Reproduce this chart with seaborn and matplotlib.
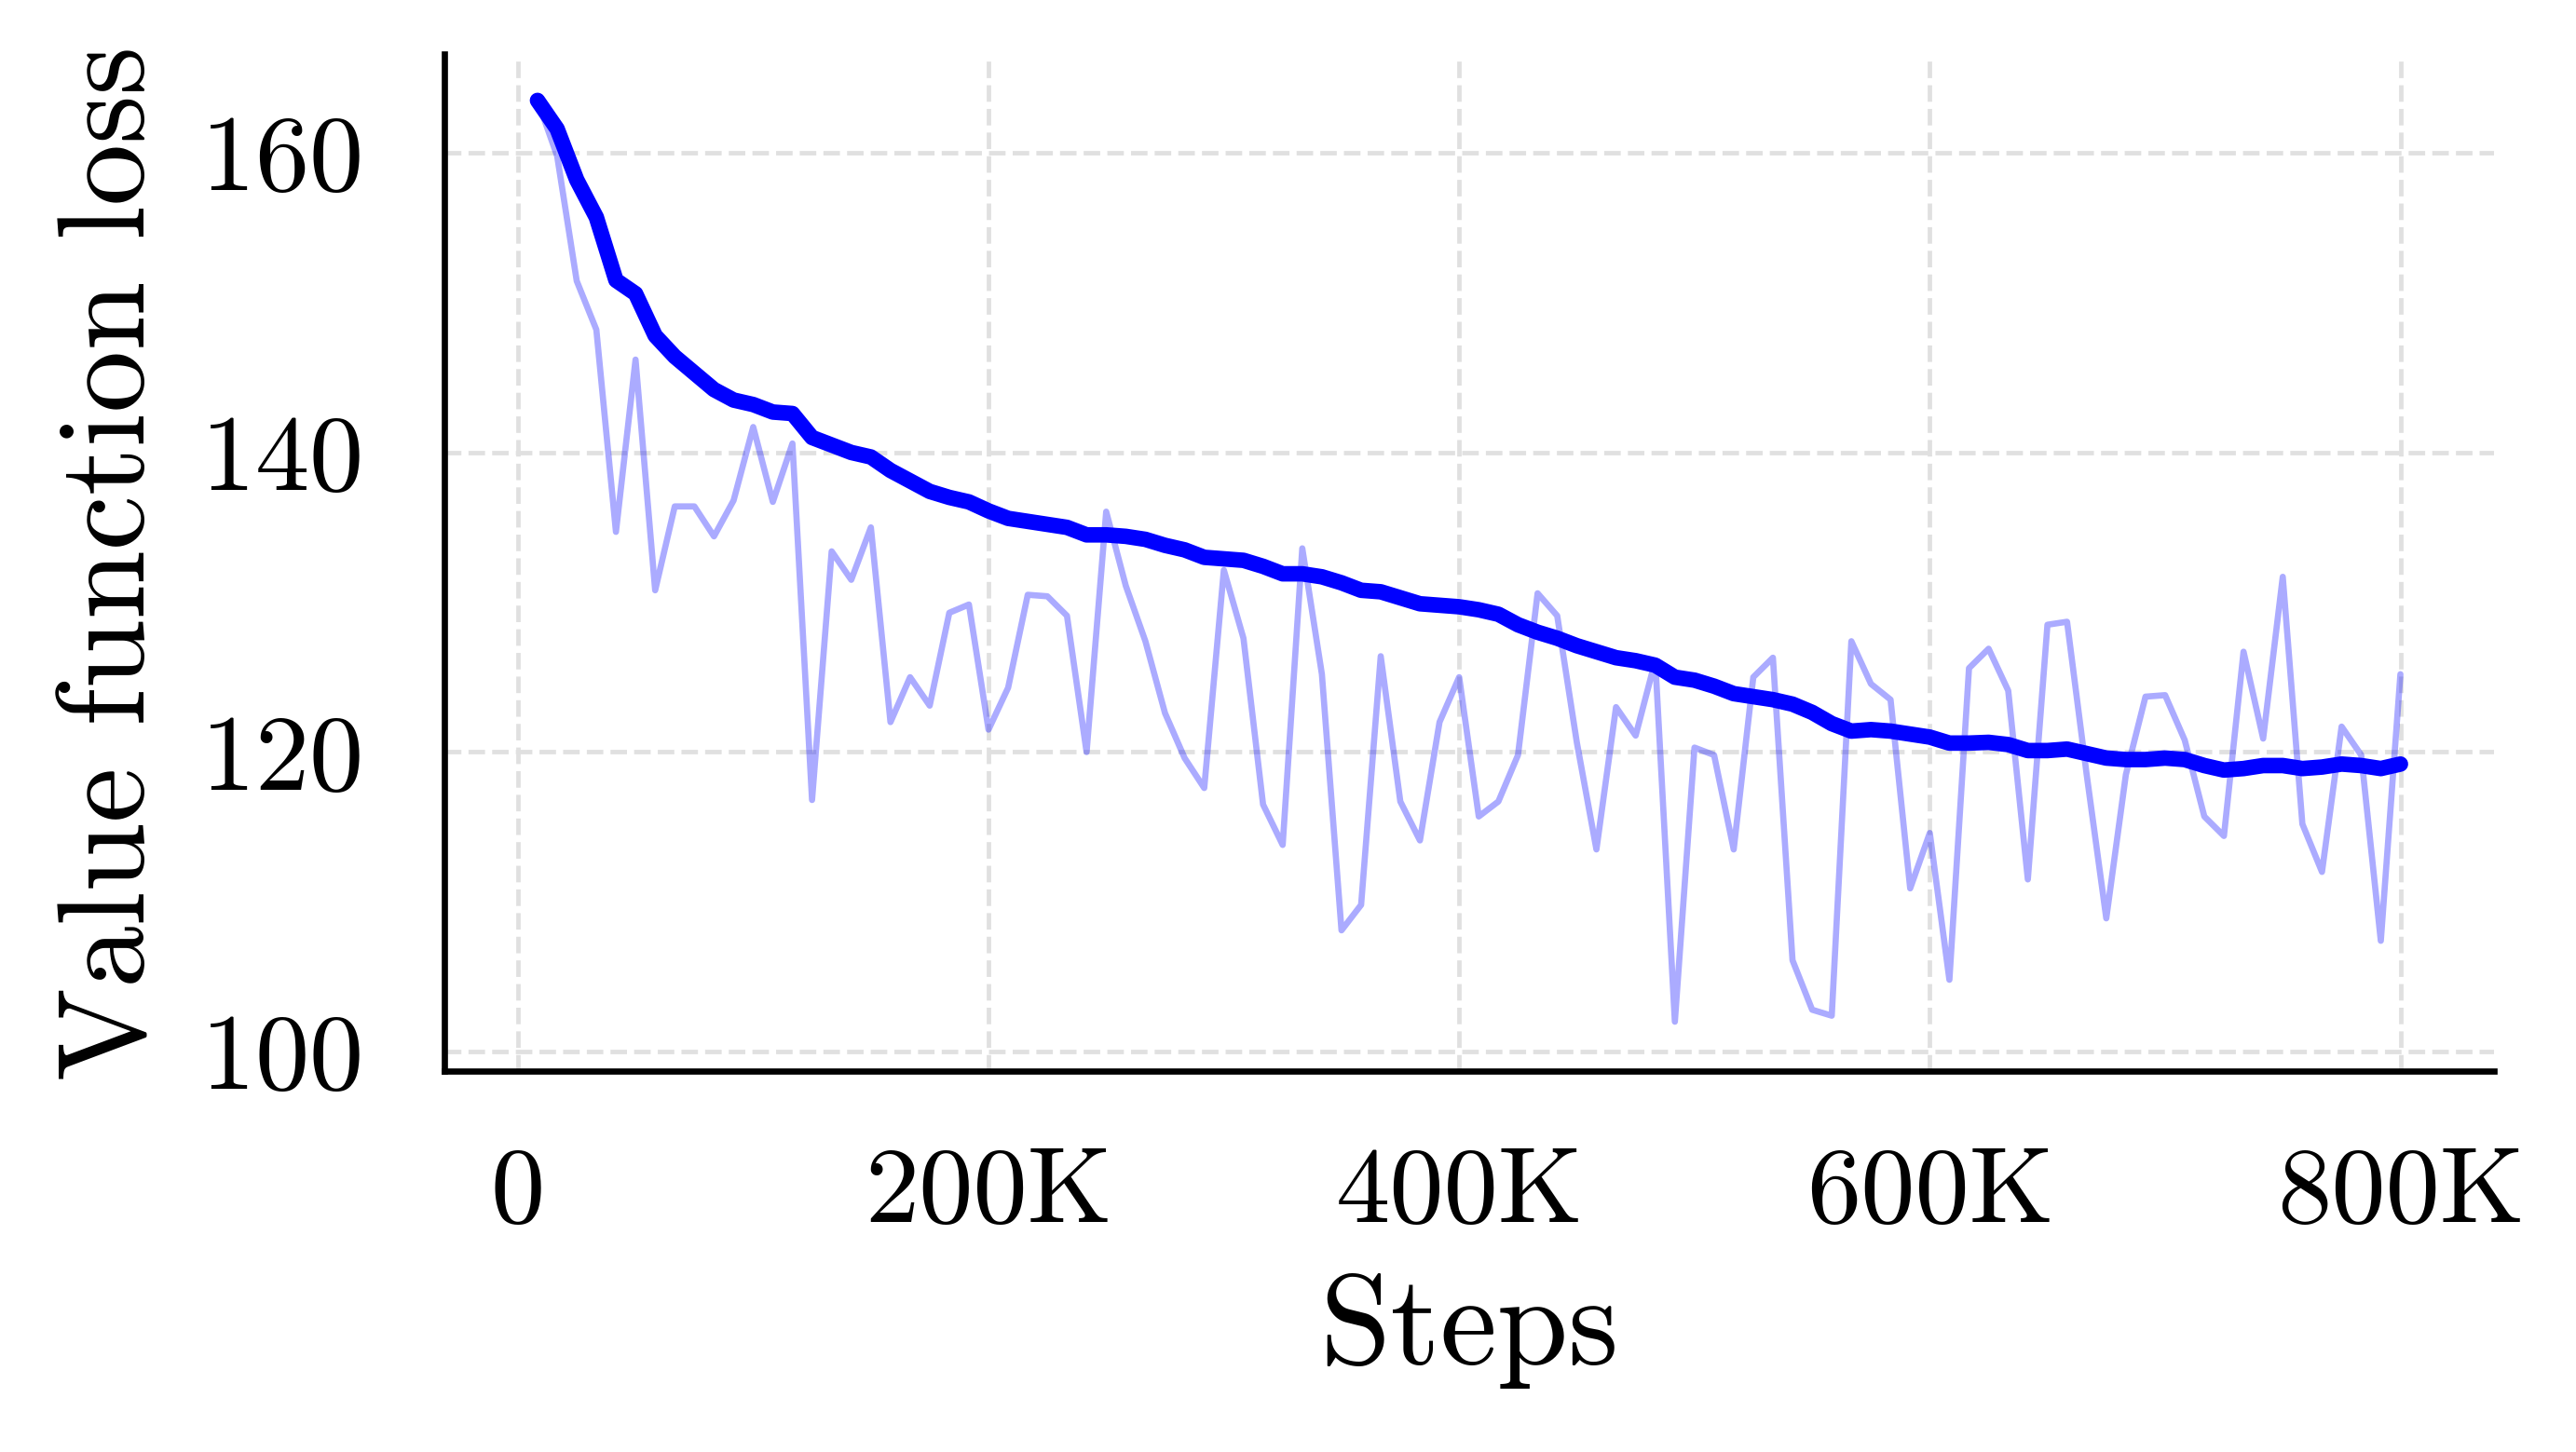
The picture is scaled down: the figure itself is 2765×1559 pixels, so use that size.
import matplotlib
matplotlib.use('Agg')
import matplotlib.pyplot as plt
from matplotlib.ticker import FuncFormatter
import seaborn as sns
import pandas as pd
import numpy as np

# evaluation every 800K / 96 steps
eval_every = 800_000 / 96
steps = eval_every * np.arange(1, 97)

raw_loss = [
    163.5, 159.8, 151.45, 148.2, 134.7, 146.2, 130.8, 136.4, 136.4, 134.4,
    136.8, 141.7, 136.7, 140.6, 116.8, 133.4, 131.5, 135.0, 122.0, 125.0,
    123.1, 129.3, 129.85, 121.5, 124.3, 130.5, 130.4, 129.1, 120.0, 136.05,
    131.1, 127.4, 122.6, 119.6, 117.6, 132.15, 127.6, 116.5, 113.8, 133.6,
    125.2, 108.1, 109.8, 126.4, 116.7, 114.1, 122.0, 125.0, 115.7, 116.7,
    119.8, 130.6, 129.1, 120.65, 113.5, 123.0, 121.1, 126.1, 102.0, 120.3,
    119.8, 113.5, 125.0, 126.3, 106.1, 102.8, 102.4, 127.4, 124.55, 123.5,
    110.9, 114.6, 104.8, 125.6, 126.9, 124.1, 111.5, 128.5, 128.7, 118.5,
    108.9, 118.5, 123.7, 123.8, 120.8, 115.7, 114.4, 126.7, 120.9, 131.7,
    115.2, 112.0, 121.7, 119.8, 107.4, 125.2,
]

smoothed_loss = [
    163.5, 161.6, 158.2, 155.7, 151.5, 150.6, 147.8, 146.4, 145.3, 144.2,
    143.5, 143.2, 142.7, 142.6, 141.0, 140.5, 140.0, 139.7, 138.8, 138.1,
    137.4, 137.0, 136.7, 136.1, 135.6, 135.4, 135.2, 135.0, 134.5, 134.5,
    134.4, 134.2, 133.8, 133.5, 133.0, 132.9, 132.8, 132.4, 131.9, 131.9,
    131.7, 131.3, 130.8, 130.7, 130.3, 129.9, 129.8, 129.7, 129.5, 129.2,
    128.5, 128.0, 127.6, 127.1, 126.7, 126.3, 126.1, 125.8, 125.0, 124.8,
    124.4, 123.9, 123.7, 123.5, 123.2, 122.65, 121.9, 121.4, 121.5, 121.4,
    121.2, 121.0, 120.6, 120.6, 120.65, 120.5, 120.1, 120.1, 120.2, 119.9,
    119.6, 119.5, 119.5, 119.6, 119.5, 119.1, 118.8, 118.9, 119.1, 119.1,
    118.9, 119.0, 119.2, 119.1, 118.9, 119.2,
]

sns.set_style('white')
plt.rcParams['font.family'] = ['cmr10', 'DejaVu Serif']
plt.rcParams['mathtext.fontset'] = 'cm'
plt.rcParams['axes.formatter.use_mathtext'] = True
plt.rcParams['text.color'] = 'black'
plt.rcParams['axes.labelcolor'] = 'black'
plt.rcParams['xtick.color'] = 'black'
plt.rcParams['ytick.color'] = 'black'

df = pd.DataFrame({'Steps': steps, 'raw': raw_loss, 'smooth': smoothed_loss})

fig = plt.figure(figsize=(2765 / 300, 1559 / 300), dpi=300)
ax = fig.add_axes([0.1725, 0.2623, 0.7955, 0.7005])

sns.lineplot(data=df, x='Steps', y='raw', ax=ax, color='blue', alpha=0.33, linewidth=1.6)
sns.lineplot(data=df, x='Steps', y='smooth', ax=ax, color='blue', linewidth=4.0)

ax.set_xticks([0, 200_000, 400_000, 600_000, 800_000])
ax.xaxis.set_major_formatter(FuncFormatter(lambda v, _: '0' if v == 0 else f'{int(v / 1000)}K'))
ax.set_yticks([100, 120, 140, 160])
ax.set_ylim(98.7, 166.6)

ax.grid(True, color='#e0e0e0', linestyle='--', linewidth=1.15)
ax.set_axisbelow(True)
sns.despine(ax=ax)
for side in ['left', 'bottom']:
    ax.spines[side].set_linewidth(1.6)
    ax.spines[side].set_color('black')

ax.tick_params(axis='both', length=11.5, width=1.7, labelsize=28, color='black', labelcolor='black')
ax.tick_params(axis='x', pad=8)
ax.tick_params(axis='y', pad=10)

ax.set_xlabel('Steps', fontsize=33, labelpad=8)
ax.set_ylabel('Value function loss', fontsize=32, labelpad=8)

plt.savefig('out.png', dpi=300)
plt.close()
